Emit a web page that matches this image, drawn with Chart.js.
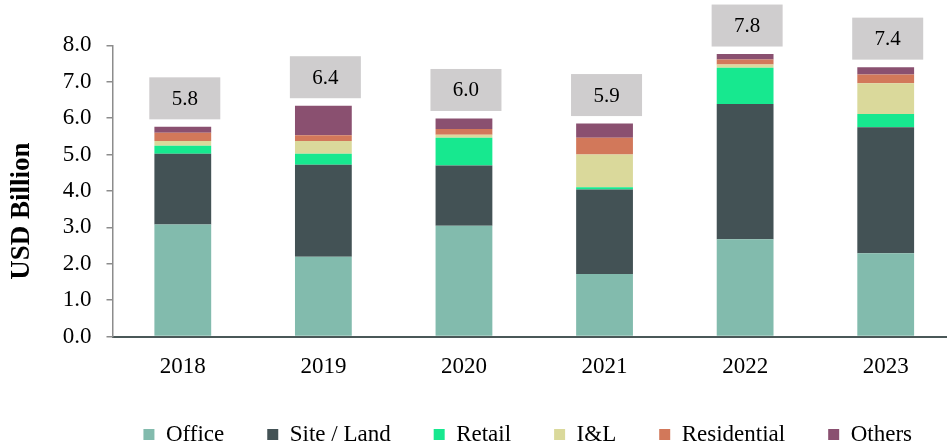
<!DOCTYPE html>
<html>
<head>
<meta charset="utf-8">
<script src="https://cdn.jsdelivr.net/npm/chart.js@4.4.1/dist/chart.umd.min.js"></script>
<style>
  html, body { margin: 0; padding: 0; background: #fff; overflow: hidden; }
  #wrap { width: 956px; height: 446px; }
</style>
</head>
<body>
<div id="wrap"><canvas id="chart"></canvas></div>
<script>
const years = ["2018", "2019", "2020", "2021", "2022", "2023"];
const office      = [3.08, 2.19, 3.04, 1.72, 2.67, 2.29];
const siteLand    = [1.94, 2.53, 1.66, 2.32, 3.72, 3.46];
const retail      = [0.22, 0.30, 0.76, 0.06, 0.99, 0.36];
const il          = [0.13, 0.35, 0.08, 0.90, 0.09, 0.85];
const residential = [0.23, 0.16, 0.16, 0.46, 0.14, 0.24];
const others      = [0.16, 0.81, 0.29, 0.39, 0.15, 0.20];
const totals      = ["5.8", "6.4", "6.0", "5.9", "7.8", "7.4"];

const serif = "'Liberation Serif', 'Times New Roman', serif";

// grey boxes with the yearly total above each stack
const totalBoxes = {
  id: "totalBoxes",
  afterDatasetsDraw(chart) {
    const { ctx, scales } = chart;
    ctx.save();
    years.forEach((y, i) => {
      let sum = 0;
      chart.data.datasets.forEach(ds => { sum += ds.data[i]; });
      const x = scales.x.getPixelForValue(i) + 2;
      const top = scales.y.getPixelForValue(sum);
      const w = 71, h = 42;
      ctx.fillStyle = "#cfcdce";
      ctx.fillRect(x - w / 2, top - 7.5 - h, w, h);
      ctx.fillStyle = "#000";
      ctx.font = "21px " + serif;
      ctx.textAlign = "center";
      ctx.textBaseline = "middle";
      ctx.fillText(totals[i], x, top - 7.5 - h / 2 + 1);
    });
    ctx.restore();
  }
};

// keep the legend on one row and pin its height
const legendFit = {
  id: "legendFit",
  beforeUpdate(chart) {
    const lg = chart.legend;
    if (!lg || lg._pinned) return;
    const fit = lg.fit;
    lg.fit = function () {
      const mw = this.maxWidth;
      this.maxWidth = 3000;
      fit.call(this);
      this.maxWidth = mw;
      this.width = mw;
      this.height = 66;
      if (this.lineWidths) this.lineWidths = this.lineWidths.map(w => w + 1);
    };
    lg._pinned = true;
  }
};

function ds(label, data, color) {
  return { label, data, backgroundColor: color, borderWidth: 0, barPercentage: 0.404, categoryPercentage: 1 };
}

new Chart(document.getElementById("chart"), {
  type: "bar",
  data: {
    labels: years,
    datasets: [
      ds("Office", office, "#82bbad"),
      ds("Site / Land", siteLand, "#435255"),
      ds("Retail", retail, "#17e88f"),
      ds("I&L", il, "#dad99b"),
      ds("Residential", residential, "#d2785a"),
      ds("Others", others, "#8a5070")
    ]
  },
  options: {
    responsive: true,
    maintainAspectRatio: false,
    animation: false,
    layout: { padding: { top: 45.3, left: 0, right: 0, bottom: 0 } },
    plugins: {
      tooltip: { enabled: false },
      legend: {
        position: "bottom",
        align: "end",
        fullSize: true,
        labels: {
          boxWidth: 11,
          boxHeight: 11,
          padding: 43,
          color: "#000",
          font: { family: serif, size: 23 }
        }
      }
    },
    scales: {
      x: {
        stacked: true,
        grid: { display: false, drawTicks: false },
        border: { display: true, color: "#4a5858", width: 2 },
        ticks: { color: "#000", padding: 17, font: { family: serif, size: 23 } },
        afterFit(s) { s.height = 43.5; }
      },
      y: {
        stacked: true,
        min: 0,
        max: 8,
        grid: { drawOnChartArea: false, drawTicks: true, tickLength: 6, color: "#8c8c8c", lineWidth: 1.5 },
        border: { display: true, color: "#8c8c8c", width: 1.5 },
        ticks: {
          stepSize: 1,
          color: "#000",
          padding: 15,
          font: { family: serif, size: 23 },
          callback: v => v.toFixed(1)
        },
        title: {
          display: true,
          // trailing spaces push the title a little below the middle, as in the original
          text: "USD Billion\u00a0\u00a0\u00a0\u00a0\u00a0\u00a0",
          color: "#000",
          padding: { top: 6, bottom: 0 },
          font: { family: serif, size: 27, weight: "bold" }
        },
        afterFit(s) { s.width = 112.5; }
      }
    }
  },
  plugins: [totalBoxes, legendFit]
});
</script>
</body>
</html>
